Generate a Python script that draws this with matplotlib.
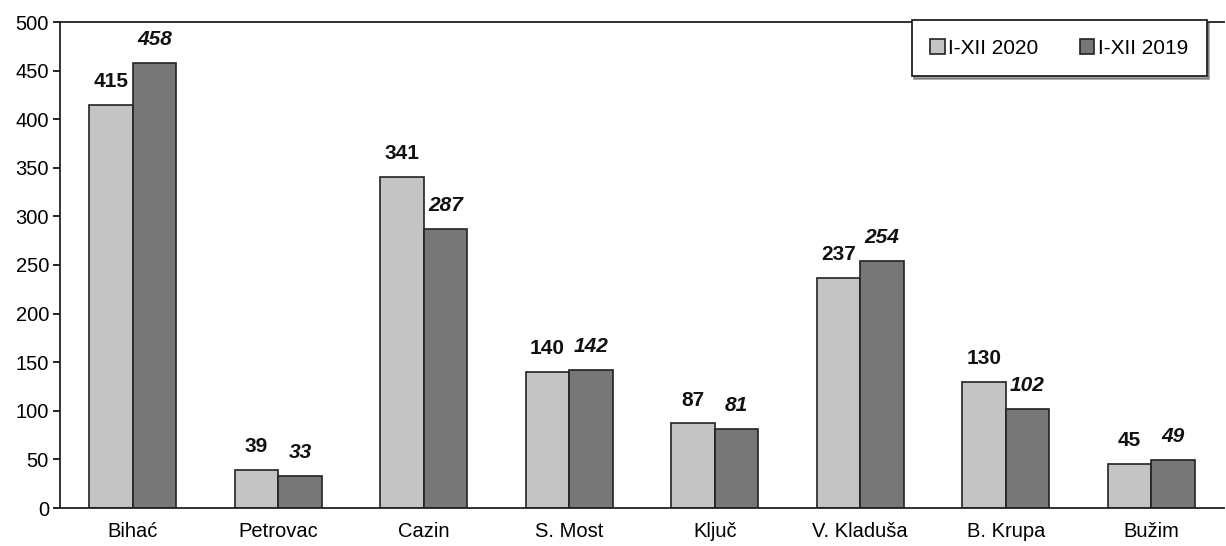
import numpy as np
import matplotlib.pyplot as plt

plt.rcParams['font.family'] = ['Liberation Sans', 'DejaVu Sans']

gradovi = ["Bihać", "Petrovac", "Cazin", "S. Most", "Ključ", "V. Kladuša", "B. Krupa", "Bužim"]
v2020 = [415, 39, 341, 140, 87, 237, 130, 45]
v2019 = [458, 33, 287, 142, 81, 254, 102, 49]

fig = plt.figure(figsize=(12.26, 5.46), dpi=100)
ax = fig.add_axes([60/1226, 38/546, 1164/1226, 486/546])

x = np.arange(len(gradovi))
w = 0.3
b1 = ax.bar(x - w/2, v2020, w, color="#c4c4c4", edgecolor="#222222", linewidth=1.2, label="I-XII 2020")
b2 = ax.bar(x + w/2, v2019, w, color="#777777", edgecolor="#222222", linewidth=1.2, label="I-XII 2019")

for r, v in zip(b1, v2020):
    ax.annotate(str(v), (r.get_x() + r.get_width()/2, v), xytext=(0, 10), textcoords="offset points",
                ha="center", va="bottom", fontsize=15, fontweight="bold", color="#111111")
for r, v in zip(b2, v2019):
    ax.annotate(str(v), (r.get_x() + r.get_width()/2, v), xytext=(0, 10), textcoords="offset points",
                ha="center", va="bottom", fontsize=15, fontweight="bold", style="italic", color="#111111")

ax.set_xlim(-0.5, len(gradovi) - 0.5)
ax.set_ylim(0, 500)
ax.set_yticks(np.arange(0, 501, 50))
ax.set_xticks(x)
ax.set_xticklabels(gradovi, fontsize=14.5)
ax.tick_params(axis="x", length=0, pad=10)
ax.tick_params(axis="y", labelsize=14.5, length=5, width=1.2, direction="out", pad=3)
ax.spines["right"].set_visible(False)
for s in ["left", "top", "bottom"]:
    ax.spines[s].set_linewidth(1.3)
    ax.spines[s].set_color("#222222")

leg = ax.legend(ncol=2, loc="upper right", bbox_to_anchor=(0.994, 1.026), fontsize=15, frameon=True,
                fancybox=False, shadow=True, edgecolor="#222222", borderpad=0.9,
                handlelength=0.7, handleheight=0.7, handletextpad=0.15, columnspacing=2.0)
leg.get_frame().set_linewidth(1.3)

fig.savefig("out.png", dpi=100)
